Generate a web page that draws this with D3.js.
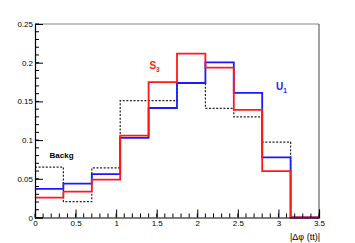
<!DOCTYPE html>
<html>
<head>
<meta charset="utf-8">
<script src="https://cdn.jsdelivr.net/npm/d3@7"></script>
<style>
  body { margin: 0; background: #fff; }
  text { font-family: "Liberation Sans", Arial, sans-serif; }
</style>
</head>
<body>
<div id="chart"></div>
<script>
// bin edges (width 0.35) and contents
var binEdges = [0, 0.35, 0.7, 1.05, 1.4, 1.75, 2.1, 2.45, 2.8, 3.15, 3.5];
var backgValues = [0.065, 0.0205, 0.064, 0.151, 0.151, 0.174, 0.141, 0.130, 0.0975, 0];
var u1Values = [0.037, 0.0437, 0.056, 0.103, 0.1415, 0.1738, 0.2005, 0.161, 0.0778, 0];
var s3Values = [0.0256, 0.0334, 0.049, 0.1057, 0.175, 0.2116, 0.1936, 0.139, 0.060, 0];
var xTicks = [0, 0.5, 1, 1.5, 2, 2.5, 3, 3.5];
var yTicks = [0, 0.05, 0.1, 0.15, 0.2, 0.25];

var attrs = {
  svgWidth: 355,
  svgHeight: 243,
  marginTop: 24,
  marginLeft: 35,
  marginRight: 36,
  marginBottom: 25.5
};

var calc = {};
calc.chartWidth = attrs.svgWidth - attrs.marginLeft - attrs.marginRight;
calc.chartHeight = attrs.svgHeight - attrs.marginTop - attrs.marginBottom;

var svg = d3.select('#chart').append('svg')
  .attr('width', attrs.svgWidth)
  .attr('height', attrs.svgHeight);

var chart = svg.append('g')
  .attr('transform', 'translate(' + attrs.marginLeft + ',' + attrs.marginTop + ')');

var xScale = d3.scaleLinear().domain([0, 3.5]).range([0, calc.chartWidth]);
var yScale = d3.scaleLinear().domain([0, 0.25]).range([calc.chartHeight, 0]);

// frame top / right
chart.append('line')
  .attr('x1', 0).attr('x2', calc.chartWidth).attr('y1', 0).attr('y2', 0)
  .attr('stroke', '#888').attr('stroke-width', 1.2);
chart.append('line')
  .attr('x1', calc.chartWidth).attr('x2', calc.chartWidth).attr('y1', 0).attr('y2', calc.chartHeight)
  .attr('stroke', '#444').attr('stroke-width', 1);

// histogram step path
function stepPoints(values) {
  var pts = [];
  values.forEach(function (v, i) {
    pts.push([binEdges[i], v]);
    pts.push([binEdges[i + 1], v]);
  });
  return pts;
}
var line = d3.line()
  .x(function (d) { return xScale(d[0]); })
  .y(function (d) { return yScale(d[1]); });

chart.append('path')
  .attr('d', line(stepPoints(backgValues)))
  .attr('fill', 'none').attr('stroke', '#222').attr('stroke-width', 1.2)
  .attr('stroke-dasharray', '2,1.6');
chart.append('path')
  .attr('d', line(stepPoints(u1Values)))
  .attr('fill', 'none').attr('stroke', '#1a1aff').attr('stroke-width', 1.8);
chart.append('path')
  .attr('d', line(stepPoints(s3Values)))
  .attr('fill', 'none').attr('stroke', '#ff1a1a').attr('stroke-width', 1.8);

// axes (ticks inside, ROOT style)
var xAxis = d3.axisBottom(xScale).tickValues(xTicks).tickSize(-8).tickPadding(3)
  .tickFormat(function (d) { return d3.format('')(d); });
var yAxis = d3.axisLeft(yScale).tickValues(yTicks).tickSize(-8).tickPadding(2)
  .tickFormat(function (d) { return d3.format('')(d); });

var gx = chart.append('g').attr('transform', 'translate(0,' + calc.chartHeight + ')').call(xAxis);
var gy = chart.append('g').call(yAxis);

// minor ticks
gx.selectAll('.minor').data(d3.range(0, 3.5001, 0.1)).enter().append('line')
  .attr('x1', function (d) { return xScale(d); }).attr('x2', function (d) { return xScale(d); })
  .attr('y1', 0).attr('y2', -4).attr('stroke', '#000');
gy.selectAll('.minor').data(d3.range(0, 0.2501, 0.01)).enter().append('line')
  .attr('y1', function (d) { return yScale(d); }).attr('y2', function (d) { return yScale(d); })
  .attr('x1', 0).attr('x2', 4).attr('stroke', '#000');

[gx, gy].forEach(function (g) {
  g.selectAll('.domain').attr('stroke', '#000').attr('stroke-width', 1.2);
  g.selectAll('.tick line').attr('stroke', '#000');
  g.selectAll('text').attr('font-size', 8).attr('fill', '#000')
    .style('font-family', '"Liberation Sans", Arial, sans-serif');
});

// labels
var s3 = chart.append('text').attr('x', xScale(1.41)).attr('y', yScale(0.192))
  .attr('fill', '#ff1a1a').attr('font-size', 10).attr('font-weight', 'bold');
s3.append('tspan').text('S');
s3.append('tspan').attr('font-size', 6.5).attr('dy', 3).text('3');

var u1 = chart.append('text').attr('x', xScale(2.97)).attr('y', yScale(0.165))
  .attr('fill', '#1a1aff').attr('font-size', 10).attr('font-weight', 'bold');
u1.append('tspan').text('U');
u1.append('tspan').attr('font-size', 6.5).attr('dy', 3).text('1');

chart.append('text').attr('x', xScale(0.18)).attr('y', yScale(0.077))
  .attr('fill', '#000').attr('font-size', 8).attr('font-weight', 'bold').text('Backg');

svg.append('text').attr('x', attrs.marginLeft + calc.chartWidth + 1).attr('y', 240)
  .attr('text-anchor', 'end').attr('font-size', 9).attr('fill', '#000')
  .text('|\u0394\u03c6 (tt)|');
</script>
</body>
</html>
